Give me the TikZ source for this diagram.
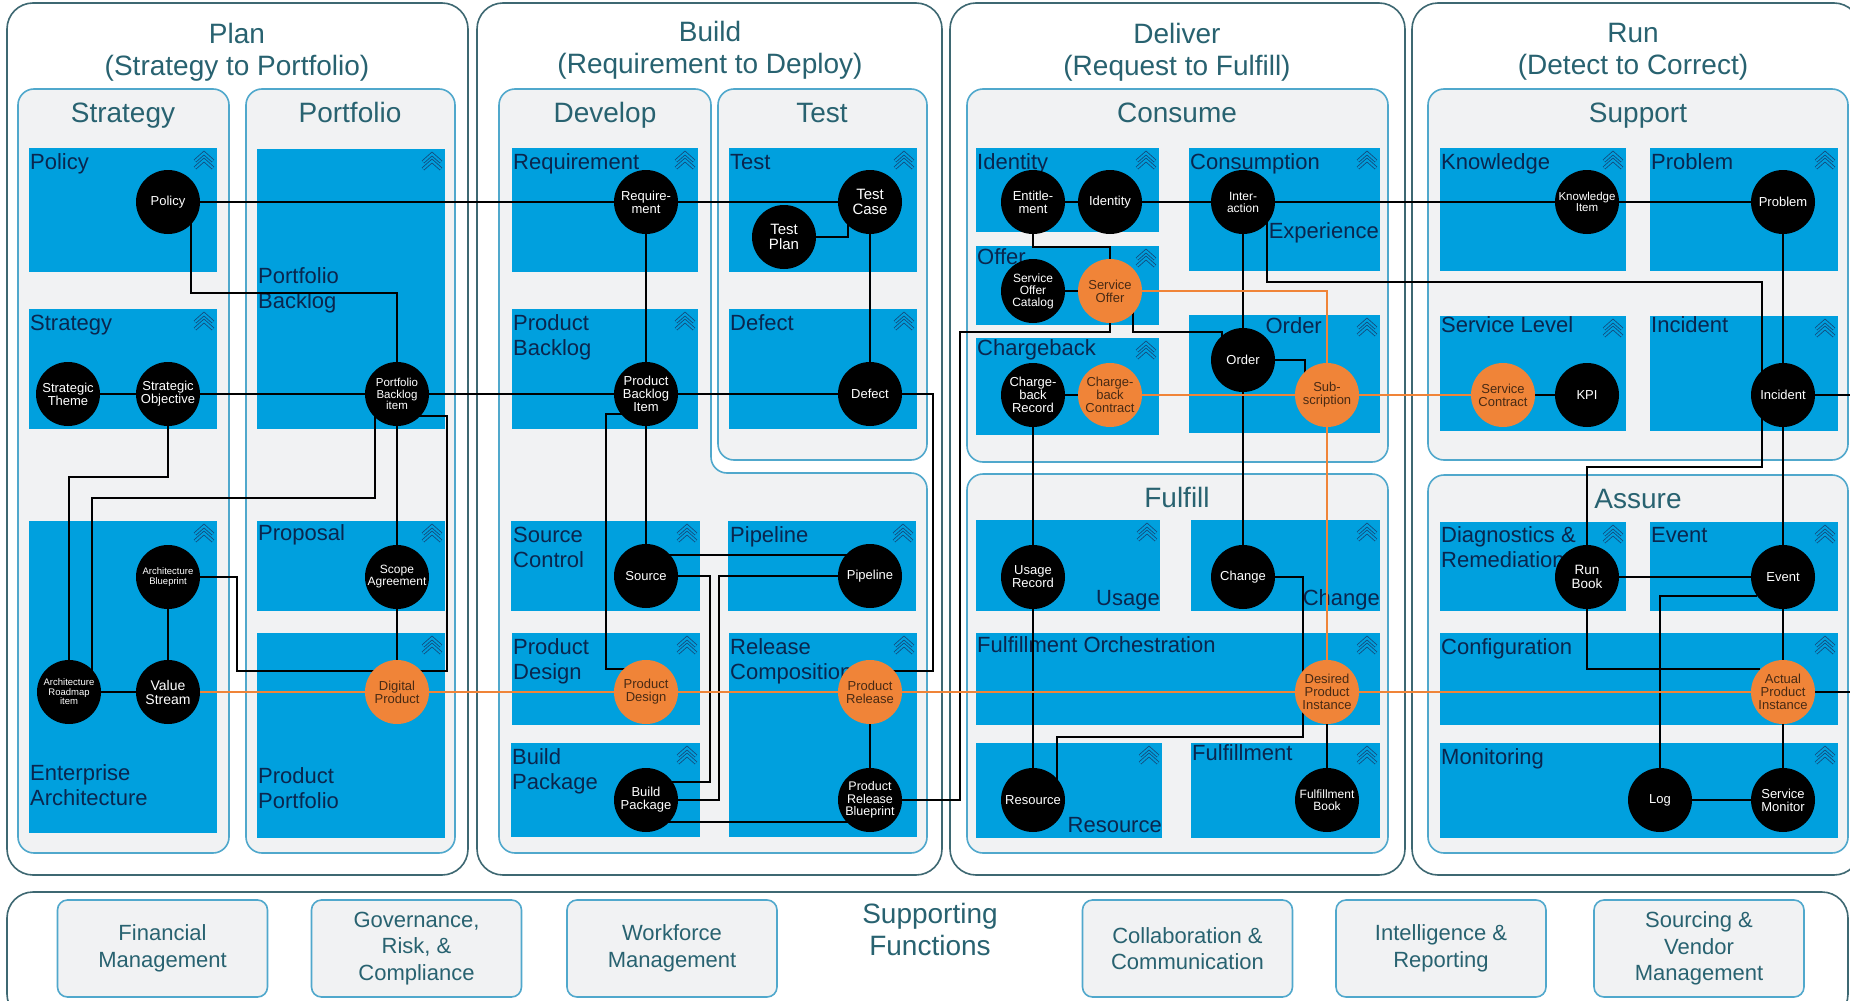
\documentclass[tikz,border=0pt]{standalone}
\usepackage{fontspec}
\setmainfont{Liberation Sans}
\usepackage{xcolor}
\usepackage{tikz}
\usetikzlibrary{positioning}
\pgfdeclarelayer{boxes}
\pgfdeclarelayer{links}
\pgfsetlayers{boxes,links,main}

\definecolor{outerc}{RGB}{62,104,114}
\definecolor{titlec}{RGB}{40,98,112}
\definecolor{innerc}{RGB}{80,168,204}
\definecolor{innerf}{RGB}{241,242,243}
\definecolor{boxblue}{RGB}{0,160,222}
\definecolor{labelc}{RGB}{10,38,78}
\definecolor{chevc}{RGB}{20,72,122}
\definecolor{orangec}{RGB}{240,132,56}
\definecolor{otext}{RGB}{72,42,20}

\tikzset{
  outerbox/.style={draw=outerc, line width=1.6pt, fill=white, rounded corners=26pt},
  innerbox/.style={draw=innerc, line width=1.6pt, fill=innerf, rounded corners=16pt},
  chev/.style={draw=chevc, line width=0.8pt, double=boxblue, double distance=2pt, line join=miter},
  ttl/.style={align=center, inner sep=0pt, text=titlec, font=\fontsize{28}{32}\selectfont},
  sttl/.style={anchor=base, inner sep=0pt, text=titlec, font=\fontsize{28}{32}\selectfont},
  blabel/.style={anchor=base west, inner sep=0pt, text=labelc, align=left, font=\fontsize{22}{25}\selectfont},
  brlabel/.style={blabel, anchor=base east, align=right},
  fs/.style={font=\fontsize{#1}{#1}\selectfont},
  bnode/.style={circle, fill=black, text=white, minimum size=64pt, inner sep=0pt, align=center, fs=13},
  onode/.style={bnode, fill=orangec, text=otext},
  link/.style={line width=2.5pt, black},
  olink/.style={line width=2pt, orangec},
  funcbox/.style={draw=innerc, line width=1.6pt, fill=innerf, rounded corners=10pt, minimum width=210pt,
    minimum height=97pt, align=center, text=titlec, font=\fontsize{22}{26.5}\selectfont}
}

\begin{document}
\begin{tikzpicture}[x=1pt, y=-1pt]
        \useasboundingbox (0,0) rectangle (1850,1001);

        \begin{pgfonlayer}{boxes}
        \fill[white] (0,0) rectangle (1850,1001);
        % Phases
        \draw[outerbox] (7,3) rectangle (468,875);
        \draw[outerbox] (477,3) rectangle (942,875);
        \draw[outerbox] (950,3) rectangle (1405,875);
        \draw[outerbox] (1412,3) rectangle (1860,875);
        \draw[outerbox] (7,892) rectangle (1848,1020);

        % Functional components
        \draw[innerbox] (18,89) rectangle (229,853);
        \draw[innerbox] (246,89) rectangle (455,853);
        \draw[innerbox] (499,89) -- (711,89) -- (711,473) -- (927,473) -- (927,853) -- (499,853) -- cycle;
        \draw[innerbox] (718,89) rectangle (927,460);
        \draw[innerbox] (967,89) rectangle (1388,462);
        \draw[innerbox] (967,474) rectangle (1388,853);
        \draw[innerbox] (1428,89) rectangle (1848,460);
        \draw[innerbox] (1428,475) rectangle (1848,853);

        % Data object groups
        \foreach \xa/\ya/\xb/\yb in {29/148/217/272, 29/309/217/429, 29/521/217/833,
            257/149/445/429, 257/521/445/611, 257/633/445/838,
            512/148/698/272, 512/309/698/429, 729/148/917/272, 729/309/917/429,
            511/521/700/611, 728/521/916/611, 512/633/700/725, 511/743/700/837, 729/633/917/837,
            976/148/1159/232, 976/246/1159/325, 976/338/1159/435, 1189/148/1380/271, 1189/315/1380/433,
            976/520/1160/611, 1191/520/1380/611, 976/633/1380/725, 976/743/1162/838, 1191/743/1380/838,
            1440/148/1626/271, 1650/148/1838/271, 1440/316/1626/431, 1650/316/1838/431,
            1440/522/1626/611, 1650/522/1838/611, 1440/633/1838/725, 1440/743/1838/838} {
          \fill[boxblue] (\xa,\ya) rectangle (\xb,\yb);
          \draw[chev] (\xb-22,\ya+13) -- (\xb-13,\ya+5) -- (\xb-4,\ya+13);
          \draw[chev] (\xb-22,\ya+20) -- (\xb-13,\ya+12) -- (\xb-4,\ya+20);
        }

        % Titles
        \node[ttl] (ttlplan) at (237,52) {Plan\\(Strategy to Portfolio)};
        \node[ttl] (ttlbuild) at (710,50) {Build\\(Requirement to Deploy)};
        \node[ttl] (ttldeliver) at (1177,52) {Deliver\\(Request to Fulfill)};
        \node[ttl] (ttlrun) at (1633,52) {Run\\(Detect to Correct)};
        \node[sttl] (ttlstrat) at (123,122) {Strategy};
        \node[sttl] (ttlport) at (350,122) {Portfolio};
        \node[sttl] (ttldev) at (605,122) {Develop};
        \node[sttl] (ttltest) at (822,122) {Test};
        \node[sttl] (ttlcons) at (1177,122) {Consume};
        \node[sttl] (ttlsupp) at (1638,122) {Support};
        \node[sttl] (ttlfulf) at (1177,507) {Fulfill};
        \node[sttl] (ttlassure) at (1638,508) {Assure};
        \node[ttl] (ttlfunc) at (930,929) {Supporting\\Functions};

        % Group labels
        \node[blabel] (lpolicy) at (30,169) {Policy};
        \node[blabel] (lstrat) at (30,330) {Strategy};
        \node[blabel] (lea) at (30,805) {Enterprise\\Architecture};
        \node[blabel] (lpback) at (258,308) {Portfolio\\Backlog};
        \node[blabel] (lprop) at (258,540) {Proposal};
        \node[blabel] (lpport) at (258,808) {Product\\Portfolio};
        \node[blabel] (lreq) at (513,169) {Requirement};
        \node[blabel] (lprback) at (513,355) {Product\\Backlog};
        \node[blabel] (ltest) at (730,169) {Test};
        \node[blabel] (ldefect) at (730,330) {Defect};
        \node[blabel] (lsrc) at (513,567) {Source\\Control};
        \node[blabel] (lpipe) at (730,542) {Pipeline};
        \node[blabel] (lpdes) at (513,679) {Product\\Design};
        \node[blabel] (lbpkg) at (512,789) {Build\\Package};
        \node[blabel] (lrcomp) at (730,679) {Release\\Composition};
        \node[blabel] (lident) at (977,169) {Identity};
        \node[blabel] (loffer) at (977,264) {Offer};
        \node[blabel] (lcharge) at (977,355) {Chargeback};
        \node[blabel] (lconsum) at (1190,169) {Consumption};
        \node[brlabel] (lexper) at (1379,238) {Experience};
        \node[brlabel] (lorder) at (1322,333) {Order};
        \node[brlabel] (lusage) at (1160,605) {Usage};
        \node[brlabel] (lchange) at (1380,605) {Change};
        \node[blabel] (lfo) at (977,652) {Fulfillment Orchestration};
        \node[brlabel] (lres) at (1162,832) {Resource};
        \node[blabel] (lfulf) at (1192,760) {Fulfillment};
        \node[blabel] (lknow) at (1441,169) {Knowledge};
        \node[blabel] (lprob) at (1651,169) {Problem};
        \node[blabel] (lslevel) at (1441,332) {Service Level};
        \node[blabel] (linc) at (1651,332) {Incident};
        \node[blabel] (ldiag) at (1441,567) {Diagnostics \&\\Remediation};
        \node[blabel] (levent) at (1651,542) {Event};
        \node[blabel] (lconf) at (1441,654) {Configuration};
        \node[blabel] (lmon) at (1441,764) {Monitoring};
        \end{pgfonlayer}

        % Supporting functions
        \node[funcbox] (finmgmt) at (162.5,948.5) {Financial\\Management};
        \node[funcbox] (grc) at (416.5,948.5) {Governance,\\Risk, \&\\Compliance};
        \node[funcbox] (wfmgmt) at (672,948.5) {Workforce\\Management};
        \node[funcbox] (collab) at (1187.5,948.5) {Collaboration \&\\Communication};
        \node[funcbox] (intrep) at (1441,948.5) {Intelligence \&\\Reporting};
        \node[funcbox] (sourcing) at (1699,948.5) {Sourcing \&\\Vendor\\Management};

        % Plan
        \node[bnode] (policy) at (168,202) {Policy};
        \node[bnode] (stheme) at (68,394) {Strategic\\Theme};
        \node[bnode] (sobj) at (168,394) {Strategic\\Objective};
        \node[bnode, fs=11.5] (pbitem) at (397,394) {Portfolio\\Backlog\\item};
        \node[bnode, fs=9.5] (archbp) at (168,577) {Architecture\\Blueprint};
        \node[bnode, fs=9.5] (archrm) at (69,692) {Architecture\\Roadmap\\item};
        \node[bnode, fs=14] (vstream) at (168,692) {Value\\Stream};
        \node[bnode, fs=12] (scope) at (397,577) {Scope\\Agreement};
        \node[onode] (digprod) at (397,692) {Digital\\Product};

        % Build
        \node[bnode] (reqmt) at (646,202) {Require-\\ment};
        \node[bnode, fs=15] (tcase) at (870,202) {Test\\Case};
        \node[bnode, fs=15] (tplan) at (784,237) {Test\\Plan};
        \node[bnode] (prodbi) at (646,394) {Product\\Backlog\\Item};
        \node[bnode] (defect) at (870,394) {Defect};
        \node[bnode] (source) at (646,576) {Source};
        \node[bnode] (pipeline) at (870,576) {Pipeline};
        \node[onode] (proddes) at (646,692) {Product\\Design};
        \node[onode] (prodrel) at (870,692) {Product\\Release};
        \node[bnode] (buildpkg) at (646,800) {Build\\Package};
        \node[bnode, fs=12.5] (prbp) at (870,800) {Product\\Release\\Blueprint};

        % Deliver
        \node[bnode] (entitle) at (1033,202) {Entitle-\\ment};
        \node[bnode] (identity) at (1110,202) {Identity};
        \node[bnode, fs=12] (interact) at (1243,202) {Inter-\\action};
        \node[bnode, fs=12] (socat) at (1033,291) {Service\\Offer\\Catalog};
        \node[onode] (soffer) at (1110,291) {Service\\Offer};
        \node[bnode] (cbrec) at (1033,395) {Charge-\\back\\Record};
        \node[onode] (cbcon) at (1110,395) {Charge-\\back\\Contract};
        \node[bnode] (order) at (1243,360) {Order};
        \node[onode] (subscr) at (1327,395) {Sub-\\scription};
        \node[bnode] (usagerec) at (1033,577) {Usage\\Record};
        \node[bnode] (change) at (1243,577) {Change};
        \node[onode] (dpinst) at (1327,692) {Desired\\Product\\Instance};
        \node[bnode] (resource) at (1033,800) {Resource};
        \node[bnode, fs=12] (fbook) at (1327,800) {Fulfillment\\Book};

        % Run
        \node[bnode, fs=11.5] (kitem) at (1587,202) {Knowledge\\Item};
        \node[bnode] (problem) at (1783,202) {Problem};
        \node[onode] (scontract) at (1503,395) {Service\\Contract};
        \node[bnode] (kpi) at (1587,395) {KPI};
        \node[bnode] (incident) at (1783,395) {Incident};
        \node[bnode, fs=13.5] (runbook) at (1587,577) {Run\\Book};
        \node[bnode] (event) at (1783,577) {Event};
        \node[onode] (apinst) at (1783,692) {Actual\\Product\\Instance};
        \node[bnode] (log) at (1660,800) {Log};
        \node[bnode] (smon) at (1783,800) {Service\\Monitor};
        \coordinate (eastinc) at (1862,395);
        \coordinate (eastapi) at (1862,692);

        \begin{pgfonlayer}{links}
        % Relationships
        \draw[link] (policy) -- (reqmt) -- (tcase);
        \draw[link] ([shift={(23,0)}]policy.center) -- ++(0,91) -| (pbitem.center);
        \draw[link] (stheme) -- (sobj) -- (pbitem) -- (prodbi) -- (defect);
        \draw[link] (sobj.center) -- ++(0,83) -| (archrm.center);
        \draw[link] ([shift={(-22,0)}]pbitem.center) -- ++(0,104) -| ([shift={(23,0)}]archrm.center);
        \draw[link] (pbitem) -- (scope) -- (digprod);
        \draw[link] ([shift={(20,22)}]pbitem.center) -- ++(30,0) |- ([shift={(0,-21)}]digprod.center);
        \draw[link] (archbp.center) -- ++(69,0) |- ([shift={(0,-21)}]digprod.center);
        \draw[link] (archbp) -- (vstream);
        \draw[link] (archrm) -- (vstream);
        \draw[link] (reqmt) -- (prodbi);
        \draw[link] (tcase) -- (defect);
        \draw[link] (tplan.center) -| ([shift={(-22,0)}]tcase.center);
        \draw[link] (defect.center) -- ++(63,0) |- ([shift={(0,-21)}]prodrel.center);
        \draw[link] ([shift={(-20,20)}]prodbi.center) -- ++(-20,0) |- ([shift={(-12,-23)}]proddes.center);
        \draw[link] (prodbi) -- (source);
        \draw[link] ([shift={(0,-21)}]source.center) -- ([shift={(0,-21)}]pipeline.center);
        \draw[link] (source.center) -- ++(64,0) |- ([shift={(0,-18)}]buildpkg.center);
        \draw[link] (pipeline.center) -- ++(-151,0) |- (buildpkg.center);
        \draw[link] ([shift={(0,22)}]buildpkg.center) -- ([shift={(0,22)}]prbp.center);
        \draw[link] (prodrel) -- (prbp);
        \draw[link] (prbp.center) -| (960,332) -| (soffer.center);
        \draw[link] (entitle) -- (identity) -- (interact) -- (kitem) -- (problem);
        \draw[link] (entitle.center) -- ++(0,45) -| (soffer.center);
        \draw[link] (socat) -- (soffer);
        \draw[link] ([shift={(23,0)}]soffer.center) -- ++(0,41) -| ([shift={(-21,0)}]order.center);
        \draw[link] (interact) -- (order) -- (change);
        \draw[link] ([shift={(24,0)}]interact.center) -- ++(0,80) -- ++(495,0) -- ++(0,185) -| (runbook.center);
        \draw[link] (cbrec) -- (cbcon);
        \draw[link] (cbrec) -- (usagerec) -- (resource);
        \draw[link] (order.center) -| ([shift={(-22,0)}]subscr.center);
        \draw[link] (change.center) -- ++(60,0) -- ++(0,160) -| ([shift={(24,0)}]resource.center);
        \draw[link] (dpinst) -- (fbook);
        \draw[link] (problem) -- (incident) -- (event) -- (apinst) -- (smon);
        \draw[link] (scontract) -- (kpi);
        \draw[link] (incident) -- (eastinc);
        \draw[link] (runbook) -- (event);
        \draw[link] ([shift={(-26,19)}]event.center) -| (log.center);
        \draw[link] (runbook.center) |- ([shift={(-23,-23)}]apinst.center);
        \draw[link] (apinst) -- (eastapi);
        \draw[link] (log) -- (smon);
        % Service model backbone
        \draw[olink] (vstream) -- (digprod) -- (proddes) -- (prodrel) -- (dpinst) -- (apinst);
        \draw[olink] (soffer.center) -| (subscr.center);
        \draw[olink] (subscr) -- (dpinst);
        \draw[olink] (cbcon) -- (subscr) -- (scontract);
        \end{pgfonlayer}
      \end{tikzpicture}
\end{document}
